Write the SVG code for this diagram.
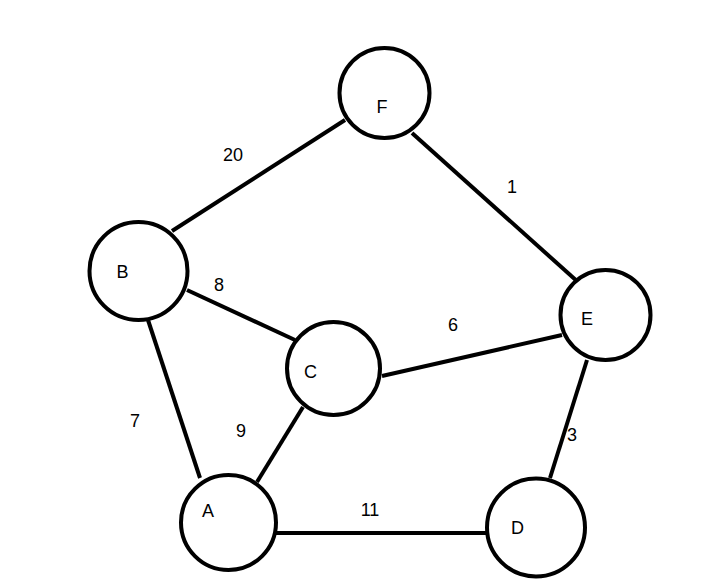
<svg xmlns="http://www.w3.org/2000/svg" width="705" height="586" viewBox="0 0 705 586">
<style>
.n{fill:#fff;stroke:#000;stroke-width:4}
.e{stroke:#000;stroke-width:4;fill:none}
text{font-family:"Liberation Sans",Arial,sans-serif;font-size:18px;fill:#000;text-anchor:middle}
</style>
<rect width="705" height="586" fill="#fff"/>
<g id="edges">
<line class="e" x1="172" y1="231" x2="345" y2="120"/>
<line class="e" x1="412" y1="133" x2="578" y2="282"/>
<line class="e" x1="187" y1="290" x2="295" y2="340"/>
<line class="e" x1="382" y1="376" x2="562" y2="335"/>
<line class="e" x1="148" y1="320" x2="200" y2="478"/>
<line class="e" x1="303" y1="407" x2="257" y2="482"/>
<line class="e" x1="276" y1="533" x2="487" y2="533"/>
<line class="e" x1="587" y1="360" x2="550" y2="478"/>
<text x="233" y="161">20</text>
<text x="512" y="193">1</text>
<text x="219" y="291">8</text>
<text x="453" y="331">6</text>
<text x="135" y="427">7</text>
<text x="241" y="437">9</text>
<text x="572" y="441">3</text>
<text x="370" y="516">11</text>
</g>
<g id="F"><circle class="n" cx="384.5" cy="93" r="45"/><text x="382" y="113">F</text></g>
<g id="B"><circle class="n" cx="138.5" cy="271" r="49"/><text x="122.5" y="278">B</text></g>
<g id="C"><circle class="n" cx="333.5" cy="368.5" r="46.5"/><text x="310.5" y="378">C</text></g>
<g id="E"><circle class="n" cx="605.5" cy="315" r="45"/><text x="587" y="325">E</text></g>
<g id="A"><circle class="n" cx="228.5" cy="522.5" r="47.5"/><text x="208" y="517">A</text></g>
<g id="D"><circle class="n" cx="536" cy="527.5" r="49"/><text x="517.5" y="534">D</text></g>
</svg>
